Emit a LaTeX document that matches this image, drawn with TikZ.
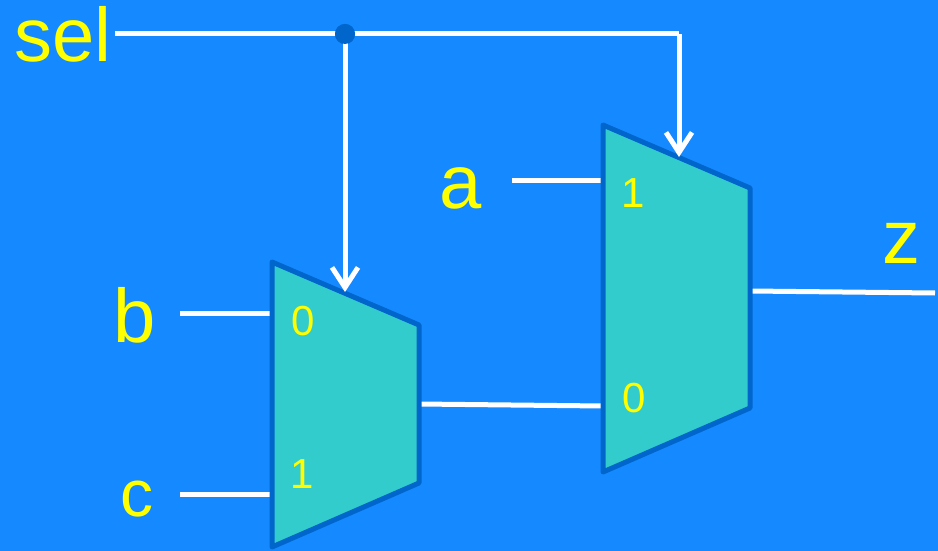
\documentclass[tikz,border=0pt]{standalone}
\usepackage{fontspec}
\setmainfont{Liberation Sans}
\usetikzlibrary{arrows.meta}
\definecolor{bg}{HTML}{1589FF}
\definecolor{muxfill}{HTML}{33CCCC}
\definecolor{muxline}{HTML}{0066CC}
\definecolor{lbl}{HTML}{FFFF00}
\begin{document}
\begin{tikzpicture}[x=1pt,y=-1pt,
 wire/.style={draw=white,line width=5pt},
 sigarrow/.style={wire,-{Straight Barb[length=20pt,width=26pt]}},
 mux/.style={fill=muxfill,draw=muxline,line width=5pt,line join=round},
 biglbl/.style={text=lbl,inner sep=0pt,anchor=base west,font=\fontsize{76}{80}\selectfont},
 pinlbl/.style={text=lbl,inner sep=0pt,anchor=base west,font=\fontsize{42}{46}\selectfont},
 junction/.style={circle,fill=muxline,inner sep=0pt,minimum size=20pt}]
\fill[bg] (0,0) rectangle (938,551);
\useasboundingbox (0,0) rectangle (938,551);
% coordinates of mux corners and pins
\coordinate (m1tl) at (272,262);
\coordinate (m1tr) at (419,325);
\coordinate (m1br) at (419,483);
\coordinate (m1bl) at (272,547);
\coordinate (m2tl) at (603,125);
\coordinate (m2tr) at (750,188);
\coordinate (m2br) at (750,408);
\coordinate (m2bl) at (603,472);
\coordinate (m1in0) at (272,313);
\coordinate (m1in1) at (272,494);
\coordinate (m1out) at (419,404);
\coordinate (m1sel) at (345,292);
\coordinate (m2in1) at (603,180);
\coordinate (m2in0) at (603,406);
\coordinate (m2out) at (750,291);
\coordinate (m2sel) at (679,157);
\coordinate (selend) at (115,34);
\coordinate (selcorner) at (679,34);
\coordinate (bend) at (180,313);
\coordinate (cend) at (180,494);
\coordinate (aend) at (512,180);
\coordinate (zend) at (935,293);
% labels
\node[biglbl] (sel) at (14,62) {sel};
\node[biglbl] (a) at (439,208) {a};
\node[biglbl] (b) at (113,342) {b};
\node[biglbl,font=\fontsize{66}{70}\selectfont] (c) at (120,516) {c};
\node[biglbl] (z) at (882,263) {z};
% input / output wires
\draw[wire] (bend) -- (m1in0);
\draw[wire] (cend) -- (m1in1);
\draw[wire] (aend) -- (m2in1);
\draw[wire] (m1out) -- (m2in0);
\draw[wire] (m2out) -- (zend);
\draw[wire] (selend) -- (selcorner);
% muxes
\draw[mux] (m1tl) -- (m1tr) -- (m1br) -- (m1bl) -- cycle;
\draw[mux] (m2tl) -- (m2tr) -- (m2br) -- (m2bl) -- cycle;
% pin labels
\node[pinlbl] (p10) at (291,335) {0};
\node[pinlbl] (p11) at (290,488) {1};
\node[pinlbl] (p20) at (622,412) {0};
\node[pinlbl] (p21) at (621,207) {1};
% select lines
\node[junction] (dot) at (345,34) {};
\draw[sigarrow] (dot.center) -- (m1sel);
\draw[sigarrow] (selcorner) -- (m2sel);
\node[junction] at (dot) {};
\end{tikzpicture}
\end{document}
